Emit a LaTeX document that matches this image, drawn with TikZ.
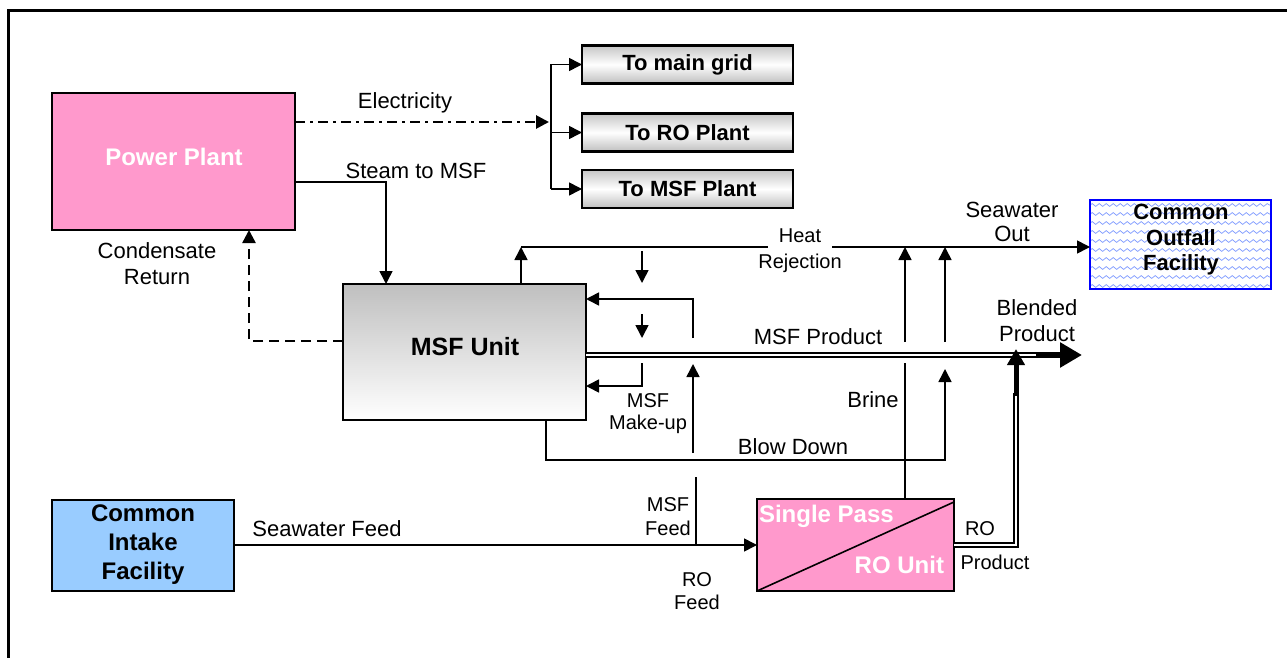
\documentclass[tikz,border=0pt]{standalone}
\usepackage{fontspec}
\setmainfont{Liberation Sans}
\usetikzlibrary{arrows.meta,decorations.pathmorphing,calc}
\definecolor{pinkbox}{HTML}{FF99CC}
\definecolor{bluebox}{HTML}{99CCFF}
\definecolor{wavecol}{HTML}{7C98FF}
\newcommand\fnorm{\fontsize{22}{25}\selectfont}
\newcommand\fsmall{\fontsize{20}{23}\selectfont}
\begin{document}
\begin{tikzpicture}[x=1pt,y=-1pt,
  every node/.style={inner sep=0pt, outer sep=0pt},
  conn/.style={line width=1.6pt},
  arr/.style={conn, -{Triangle[length=13pt,width=13pt]}},
  boxline/.style={draw=black, line width=2.2pt, rectangle},
  graybox/.style={boxline, top color=gray!45, bottom color=gray!50, middle color=white, minimum width=211pt, minimum height=38pt, font=\bfseries\fontsize{22}{25}\selectfont},
  dbl/.style={line width=1.7pt, double=white, double distance=2pt},
  txt/.style={font=\fnorm, align=center},
  stxt/.style={font=\fsmall, align=center},
  whitebold/.style={text=white, font=\bfseries\fontsize{24}{28}\selectfont},
]
\useasboundingbox (0,0) rectangle (1287,658);

% frame
\draw[line width=3pt] (8,662) -- (8,11) -- (1292,11);

% boxes
\node[boxline, fill=pinkbox, minimum width=243pt, minimum height=137pt] (pp) at (173.5,161.5) {};
\node[whitebold] (pptxt) at (174,157) {Power Plant};

\node[graybox] (grid) at (687.5,64.5) {To main grid};
\node[graybox] (rop) at (687.5,132.5) {To RO Plant};
\node[graybox] (msfp) at (687.5,189) {To MSF Plant};

\node[boxline, top color=gray!50, bottom color=white, minimum width=243pt, minimum height=136pt] (msf) at (464.5,352) {};
\node[font=\bfseries\fontsize{25}{28}\selectfont] (msftxt) at (465,347) {MSF Unit};

\node[draw=blue, line width=2.2pt, fill=white, minimum width=181pt, minimum height=89pt,
  path picture={
    \foreach \k [evaluate=\k as \yy using 5+9*\k] in {0,...,9}{
      \draw[wavecol, line width=0.7pt, decorate, decoration={snake, segment length=7pt, amplitude=1.4pt}]
        ([yshift=-\yy pt]path picture bounding box.north west) -- ([yshift=-\yy pt]path picture bounding box.north east);
    }
  }] (out) at (1180.5,244.5) {};
\node[font=\bfseries\fontsize{22}{25.5}\selectfont, align=center] (outtxt) at (1181,240) {Common\\Outfall\\Facility};

\node[boxline, fill=bluebox, minimum width=182pt, minimum height=91pt] (intake) at (143,545.5) {};
\node[font=\bfseries\fontsize{24}{29}\selectfont, align=center] (intaketxt) at (143,545) {Common\\Intake\\Facility};

\node[boxline, fill=pinkbox, minimum width=197pt, minimum height=92pt] (ro) at (855.5,545) {};
\draw[conn] (ro.south west) -- ([yshift=-3pt]ro.north east);
\node[whitebold, anchor=west] (rotxt1) at (759,516) {Single Pass};
\node[whitebold, anchor=east] (rotxt2) at (944,565) {RO Unit};

% electricity
\coordinate (br) at (551,122);
\draw[line width=2.8pt, dash pattern=on 10pt off 5pt on 3pt off 5pt, -{Triangle[length=13pt,width=13pt]}] (pp.east |- br) -- ([xshift=-2pt]br);
\draw[conn] (br |- grid.west) -- (br |- msfp.west);
\draw[arr] (br |- grid.west) -- (grid.west);
\draw[arr] (br |- rop.west) -- (rop.west);
\draw[arr] (br |- msfp.west) -- (msfp.west);
\node[txt] (lelec) at (405,103) {Electricity};

% steam
\coordinate (st) at (386,182);
\draw[arr] (pp.east |- st) -- (st) -- (st |- msf.north);
\node[txt] (lsteam) at (416,171) {Steam to MSF};

% condensate
\coordinate (cr) at (249,341);
\draw[line width=2.4pt, dash pattern=on 10pt off 6pt, -{Triangle[length=13pt,width=13pt]}] (msf.west |- cr) -- (cr) -- (cr |- pp.south);
\node[font=\fontsize{22}{26}\selectfont, align=center] (lcond) at (157,264) {Condensate\\Return};

% heat rejection / seawater out
\coordinate (hr) at (521,247);
\draw[arr] (msf.north -| hr) -- (hr);
\draw[arr] (hr) -- (hr -| out.west);
\node[font=\fsmall, fill=white, inner xsep=11pt, inner ysep=6pt] (lheat) at (800,236) {Heat};
\node[stxt] (lrej) at (800,263) {Rejection};
\node[font=\fontsize{22}{24}\selectfont, align=center] (lsout) at (1012,222) {Seawater\\Out};

% short down arrows
\coordinate (d1a) at (642,251); \coordinate (d1b) at (642,283);
\coordinate (d2a) at (642,314); \coordinate (d2b) at (642,338);
\draw[arr] (d1a) -- (d1b);
\draw[arr] (d2a) -- (d2b);

% loops on MSF right side
\coordinate (u1) at (693,338); \coordinate (u2) at (693,299);
\draw[arr] (u1) -- (u2) -- (msf.east |- u2);
\coordinate (h1) at (642,363); \coordinate (h2) at (642,386);
\draw[arr] (h1) -- (h2) -- (msf.east |- h2);
\coordinate (mk1) at (693,453); \coordinate (mk2) at (693,364);
\draw[arr] (mk1) -- (mk2);
\node[font=\fontsize{20}{22}\selectfont, align=center] (lmake) at (648,414) {MSF\\Make-up};

% MSF product
\coordinate (bp) at (1037,355);
\draw[dbl] (msf.east |- bp) -- (bp);
\draw[line width=6pt, -{Triangle[length=22pt,width=24pt]}] ([xshift=-1pt]bp) -- (1082,355);
\node[txt] (lmsfp) at (818,337) {MSF Product};
\node[font=\fontsize{22}{26}\selectfont, align=center] (lblend) at (1037,321) {Blended\\Product};

% blow down
\coordinate (bd1) at (546,460); \coordinate (bd2) at (945,460);
\coordinate (bd3) at (945,369);
\draw[arr] (msf.south -| bd1) -- (bd1) -- (bd2) -- (bd3);
\coordinate (bd4) at (945,342);
\draw[arr] (bd4) -- (bd4 |- hr);
\node[txt] (lblow) at (793,447) {Blow Down};

% brine
\coordinate (b1) at (905,363); \coordinate (b2) at (905,342);
\draw[conn] (ro.north -| b1) -- (b1);
\draw[arr] (b2) -- (b2 |- hr);
\node[txt] (lbrine) at (873,400) {Brine};

% seawater feed
\draw[arr] (intake.east |- ro.west) -- (ro.west);
\node[txt] (lsfeed) at (327,529) {Seawater Feed};
\coordinate (mf1) at (696,545); \coordinate (mf2) at (696,477);
\draw[conn] (mf1) -- (mf2);
\node[font=\fontsize{20}{24}\selectfont, align=center] (lmfeed) at (668,517) {MSF\\Feed};
\node[font=\fontsize{20}{23}\selectfont, align=center] (lrofeed) at (697,591) {RO\\Feed};

% RO product
\coordinate (rp1) at (1016,545); \coordinate (rp2) at (1016,393);
\draw[dbl] (ro.east) -- (rp1) -- (rp2);
\draw[line width=5pt, -{Triangle[length=16pt,width=17pt]}] (1016,396) -- (1016,349);
\node[stxt] (lro) at (980,529) {RO};
\node[stxt] (lrop) at (995,562) {Product};

\end{tikzpicture}
\end{document}
